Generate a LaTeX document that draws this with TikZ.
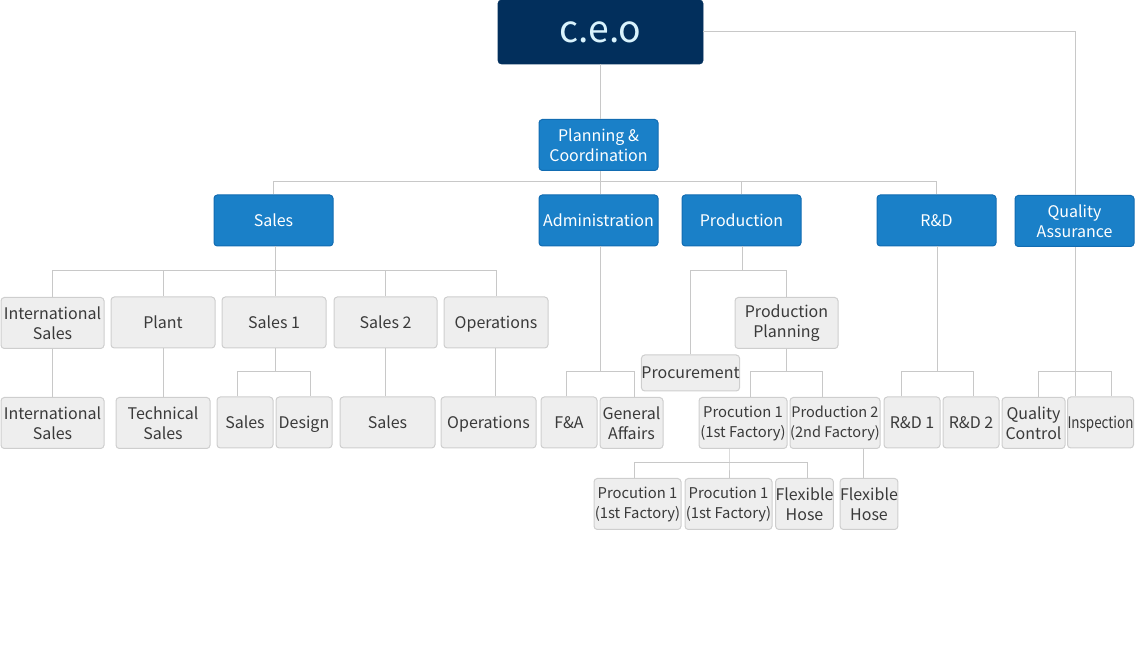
\documentclass[tikz,border=0pt]{standalone}
\usepackage{fontspec}
\usepackage{graphicx}
\setmainfont{Noto Sans CJK KR}
\definecolor{navy}{RGB}{2,47,92}
\definecolor{deptblue}{RGB}{26,128,200}
\definecolor{deptline}{RGB}{18,108,178}
\definecolor{unitfill}{RGB}{238,238,238}
\definecolor{unitline}{RGB}{206,206,206}
\definecolor{unittext}{RGB}{58,58,58}
\definecolor{wire}{RGB}{200,200,200}

\tikzstyle{ceobox} = [rectangle, rounded corners=2.5pt, fill=navy, draw=navy, text=white!85!cyan, inner sep=0pt, font={\fontsize{28}{30}\selectfont}]
\tikzstyle{dept} = [rectangle, rounded corners=2.5pt, fill=deptblue, draw=deptline, line width=0.75pt, text=white, inner sep=0pt, align=center, minimum width=119*0.75pt, minimum height=51*0.75pt, font={\fontsize{12}{15}\selectfont}]
\tikzstyle{unit} = [rectangle, rounded corners=2.5pt, fill=unitfill, draw=unitline, line width=0.75pt, text=unittext, inner sep=0pt, align=center, minimum height=51*0.75pt, font={\fontsize{12}{15}\selectfont}]
\tikzstyle{tight} = [font={\fontsize{11.1}{15}\selectfont}]
\tikzstyle{one} = [text height=0.86em, text depth=0pt]
\tikzstyle{link} = [draw=wire, line width=0.75pt]

\begin{document}
\begin{tikzpicture}[x=0.75pt, y=-0.75pt]
    \useasboundingbox (0,0) rectangle (1136,655);

    % top
    \node[ceobox, minimum width=205*0.75pt, minimum height=64*0.75pt] (ceo) at (600.5,32) {c.e.o};
    \node[dept] (plan) at (598.5,145) {Planning \&\\Coordination};

    % departments
    \node[dept, one] (sales) at (273.5,220.5) {Sales};
    \node[dept, one] (admin) at (598.5,220.5) {Administration};
    \node[dept, one] (prod) at (741.5,220.5) {Production};
    \node[dept, one] (rnd) at (936.5,220.5) {R\&D};
    \node[dept] (qa) at (1074.5,221) {Quality\\Assurance};

    % second level
    \node[unit, minimum width=103*0.75pt] (intl) at (52.5,323) {International\\Sales};
    \node[unit, one, minimum width=104*0.75pt] (plant) at (163,322.5) {Plant};
    \node[unit, one, minimum width=104*0.75pt] (s1) at (274,322.5) {Sales 1};
    \node[unit, one, minimum width=103*0.75pt] (s2) at (385.5,322.5) {Sales 2};
    \node[unit, one, minimum width=104*0.75pt] (ops) at (496,322.5) {Operations};
    \node[unit, minimum width=103*0.75pt] (pp) at (786.5,323) {Production\\Planning};
    \node[unit, one, minimum width=95*0.75pt, minimum height=36*0.75pt] (proc) at (690.5,373) {Procurement};

    % third level
    \node[unit, minimum width=103*0.75pt] (intl2) at (52.5,423) {International\\Sales};
    \node[unit, minimum width=94*0.75pt] (tech) at (163,423) {Technical\\Sales};
    \node[unit, one, minimum width=56*0.75pt] (s1a) at (245,422.5) {Sales};
    \node[unit, one, minimum width=56*0.75pt] (s1b) at (304,422.5) {Design};
    \node[unit, one, minimum width=95*0.75pt] (s2a) at (387.5,422.5) {Sales};
    \node[unit, one, minimum width=95*0.75pt] (ops2) at (488.5,422.5) {Operations};
    \node[unit, one, minimum width=56*0.75pt] (fa) at (569,422.5) {F\&A};
    \node[unit, minimum width=63*0.75pt] (ga) at (631.5,423) {General\\Affairs};
    \node[unit, tight, minimum width=88*0.75pt] (f1) at (743,423) {Procution 1\\(1st Factory)};
    \node[unit, tight, minimum width=90*0.75pt, font={\fontsize{10.9}{15}\selectfont}] (f2) at (835,423) {Production 2\\(2nd Factory)};
    \node[unit, one, minimum width=56*0.75pt] (rd1) at (912,422.5) {R\&D 1};
    \node[unit, one, minimum width=56*0.75pt] (rd2) at (971,422.5) {R\&D 2};
    \node[unit, minimum width=63*0.75pt] (qc) at (1033.5,423) {Quality\\Control};
    \node[unit, one, minimum width=65*0.75pt] (insp) at (1100.5,422.5) {\scalebox{0.84}[1]{Inspection}};

    % fourth level
    \node[unit, tight, minimum width=87*0.75pt] (g1) at (637.5,504) {Procution 1\\(1st Factory)};
    \node[unit, tight, minimum width=87*0.75pt] (g2) at (728.5,504) {Procution 1\\(1st Factory)};
    \node[unit, minimum width=55*0.75pt] (g3) at (804.5,504) {Flexible\\Hose};
    \node[unit, minimum width=56*0.75pt] (g4) at (869,504) {Flexible\\Hose};

    % junctions
    \coordinate (b0) at (600,182);
    \coordinate (b1) at (275,271);
    \coordinate (b2) at (275,372);
    \coordinate (b2l) at (237,372);
    \coordinate (b2r) at (310,372);
    \coordinate (b3) at (600,372);
    \coordinate (a1) at (566,372);
    \coordinate (a2) at (634,372);
    \coordinate (b4) at (742,271);
    \coordinate (p1) at (690,271);
    \coordinate (p2) at (786,271);
    \coordinate (b5) at (786,372);
    \coordinate (q1) at (750,372);
    \coordinate (q2) at (822,372);
    \coordinate (b6) at (729,463);
    \coordinate (r1) at (634,463);
    \coordinate (r2) at (807,463);
    \coordinate (b7) at (863,463);
    \coordinate (b8) at (937,372);
    \coordinate (d1) at (901,372);
    \coordinate (d2) at (973,372);
    \coordinate (e1) at (1038,372);
    \coordinate (e2) at (1111,372);
    \coordinate (c1) at (1075,32);
    \coordinate (o1) at (495,372);

    % connectors
    \draw[link] (ceo.south -| b0) -- (b0 |- plan.north);
    \draw[link] (ceo.east) -- (c1) -- (c1 |- qa.north);
    \draw[link] (plan.south -| b0) -- (b0);
    \draw[link] (b0) -| (sales);
    \draw[link] (b0) -- (b0 |- admin.north);
    \draw[link] (b0) -| (prod);
    \draw[link] (b0) -| (rnd);

    \draw[link] (sales.south -| b1) -- (b1);
    \draw[link] (b1) -| (intl);
    \draw[link] (b1) -| (plant);
    \draw[link] (b1) -- (b1 |- s1.north);
    \draw[link] (b1) -| (s2);
    \draw[link] (b1) -| (ops);
    \draw[link] (intl) -- (intl2);
    \draw[link] (plant) -- (tech);
    \draw[link] (s2.south) -- (s2.south |- s2a.north);
    \draw[link] (ops.south -| o1) -- (ops2.north -| o1);
    \draw[link] (s1.south -| b2) -- (b2);
    \draw[link] (s1a.north -| b2l) -- (b2l) -- (b2r) -- (b2r |- s1b.north);

    \draw[link] (admin.south -| b3) -- (b3);
    \draw[link] (fa.north -| a1) -- (a1) -- (a2) -- (a2 |- ga.north);

    \draw[link] (prod.south -| b4) -- (b4);
    \draw[link] (proc.north -| p1) -- (p1) -- (p2) -- (p2 |- pp.north);
    \draw[link] (pp.south -| b5) -- (b5);
    \draw[link] (f1.north -| q1) -- (q1) -- (q2) -- (q2 |- f2.north);
    \draw[link] (f1.south -| b6) -- (b6) -- (b6 |- g2.north);
    \draw[link] (g1.north -| r1) -- (r1) -- (r2) -- (r2 |- g3.north);
    \draw[link] (f2.south -| b7) -- (b7 |- g4.north);

    \draw[link] (rnd.south -| b8) -- (b8);
    \draw[link] (rd1.north -| d1) -- (d1) -- (d2) -- (d2 |- rd2.north);
    \draw[link] (qa.south -| c1) -- (c1 |- insp.north);
    \draw[link] (qc.north -| e1) -- (e1) -- (e2) -- (e2 |- insp.north);
\end{tikzpicture}
\end{document}
